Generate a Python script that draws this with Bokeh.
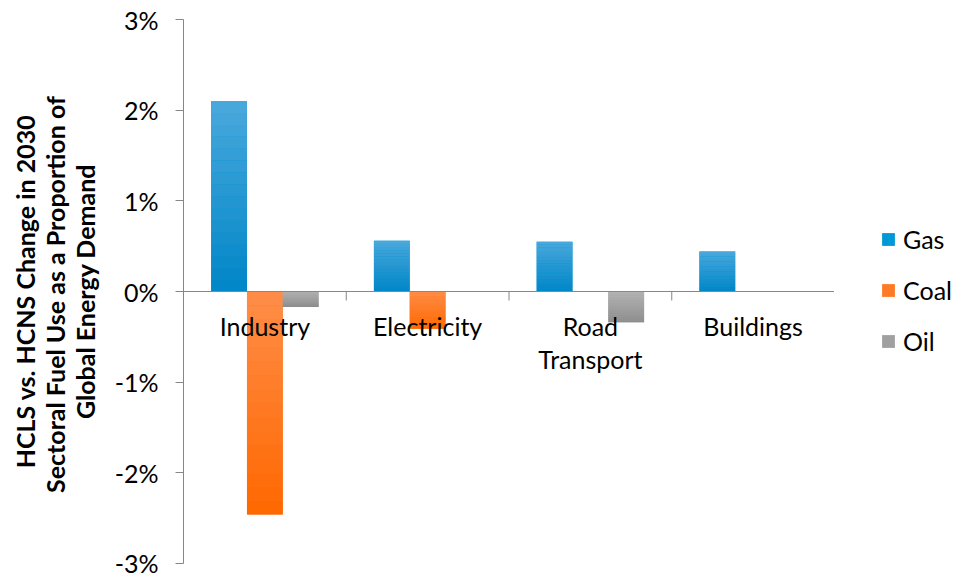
import numpy as np
from bokeh.plotting import figure
from bokeh.layouts import row
from bokeh.models import Range1d, Span, Legend, LegendItem, PrintfTickFormatter, FixedTicker
from bokeh.core.properties import value
from bokeh.embed import file_html
from bokeh.resources import INLINE

# Sectors and the change in each fuel's share of global energy demand (percentage points)
categories = ["Industry", "Electricity", "Road\nTransport", "Buildings"]
series_names = ["Gas", "Coal", "Oil"]
gas = [2.10, 0.56, 0.55, 0.44]
coal = [-2.46, -0.41, 0.0, 0.0]
oil = [-0.17, 0.0, -0.34, 0.0]
y_ticks = [-3, -2, -1, 0, 1, 2, 3]

FONT = "Lato"
AXIS_GREY = "#878787"
W, H = 955, 577
TOP, BOTTOM, LEFT = 19, 14, 183
LEGEND_W = 121
PLOT_W = W - LEGEND_W

p = figure(width=PLOT_W, height=H,
           x_range=Range1d(0, len(categories)), y_range=Range1d(y_ticks[0], y_ticks[-1]),
           output_backend="svg", toolbar_location=None,
           min_border_left=LEFT, min_border_right=0,
           min_border_top=TOP, min_border_bottom=BOTTOM)
p.outline_line_color = None
p.grid.visible = False
p.xaxis.visible = False
p.background_fill_color = "white"
p.border_fill_color = "white"

# value axis
ya = p.yaxis[0]
ya.ticker = FixedTicker(ticks=y_ticks)
ya.formatter = PrintfTickFormatter(format="%d%%")
ya.axis_line_color = AXIS_GREY
ya.major_tick_line_color = AXIS_GREY
ya.major_tick_in = 0
ya.major_tick_out = 8
ya.minor_tick_line_color = None
ya.major_label_standoff = 17
ya.major_label_text_font = FONT
ya.major_label_text_font_size = "25px"
ya.major_label_text_color = "#000000"
ya.axis_label = "HCLS vs. HCNS Change in 2030\nSectoral Fuel Use as  a Proportion of\nGlobal Energy Demand"
ya.axis_label_text_font = FONT
ya.axis_label_text_font_size = "25px"
ya.axis_label_text_font_style = "bold"
ya.axis_label_text_color = "#000000"
ya.axis_label_text_line_height = 1.0
ya.axis_label_standoff = 12

# bars: a solid base bar per series plus vertical gradient bands on top
bar_w = 0.22
offsets = [-bar_w, 0.0, bar_w]
palettes = {
    "Gas": ("#4aa8dc", "#0099d7", "#0086c7"),
    "Coal": ("#ff8d48", "#ff7a24", "#ff6800"),
    "Oil": ("#b5b5b5", "#a0a0a0", "#8c8c8c"),
}


def mix(c1, c2, t):
    a = [int(c1[i:i + 2], 16) for i in (1, 3, 5)]
    b = [int(c2[i:i + 2], 16) for i in (1, 3, 5)]
    return "#%02x%02x%02x" % tuple(round(a[j] + (b[j] - a[j]) * t) for j in range(3))


n_bands = 16
for name, vals, off in zip(series_names, [gas, coal, oil], offsets):
    light, mid, dark = palettes[name]
    xs = [i + 0.5 + off for i in range(len(categories))]
    p.vbar(x=xs, top=vals, bottom=0, width=bar_w, fill_color=mid, line_color=None)
    bx, bt, bb, bc = [], [], [], []
    for x, v in zip(xs, vals):
        if v == 0:
            continue
        hi, lo = max(v, 0.0), min(v, 0.0)
        for k in range(n_bands):
            bx.append(x)
            bt.append(hi - (hi - lo) * k / n_bands)
            bb.append(hi - (hi - lo) * (k + 1) / n_bands)
            bc.append(mix(light, dark, (k + 0.5) / n_bands))
    p.vbar(x=bx, top=bt, bottom=bb, width=bar_w, fill_color=bc, line_color=None)

# category axis along zero with boundary ticks pointing down
p.add_layout(Span(location=0, dimension="width", line_color=AXIS_GREY, line_width=1))
frame_h = H - TOP - BOTTOM
px_per_unit = frame_h / (y_ticks[-1] - y_ticks[0])
tick_len = 9 / px_per_unit
bounds = list(range(1, len(categories) + 1))
p.segment(x0=bounds, y0=[0] * len(bounds), x1=bounds, y1=[-tick_len] * len(bounds),
          line_color=AXIS_GREY, line_width=1)

p.text(x=[i + 0.5 for i in range(len(categories))], y=[0] * len(categories),
       text=categories, text_align="center", text_baseline="top",
       y_offset=19, text_font=value(FONT), text_font_size="25px",
       text_color="#000000", text_line_height=1.13)

# legend panel to the right of the chart; its swatch renderers hold no visible bars
lg = figure(width=LEGEND_W, height=H, x_range=Range1d(0, 1), y_range=Range1d(0, 1),
            output_backend="svg", toolbar_location=None,
            min_border_left=0, min_border_right=0, min_border_top=0, min_border_bottom=0)
lg.outline_line_color = None
lg.grid.visible = False
lg.axis.visible = False
lg.border_fill_color = "white"

items = []
for name in series_names:
    r = lg.vbar(x=np.array([0.5]), top=np.array([np.nan]), width=0.1,
                fill_color=palettes[name][1], line_color=None)
    items.append(LegendItem(label=name, renderers=[r]))

legend_h = 132
legend = Legend(items=items, location=(46, H - (TOP + frame_h / 2) - legend_h / 2 - 13),
                label_text_font=FONT, label_text_font_size="25px",
                label_text_color="#000000",
                glyph_width=16, glyph_height=16, label_standoff=7,
                spacing=21, padding=0, margin=0,
                border_line_color=None, background_fill_alpha=0)
lg.add_layout(legend, "center")

open("out.html", "w").write(file_html(row(p, lg, spacing=0), INLINE))
